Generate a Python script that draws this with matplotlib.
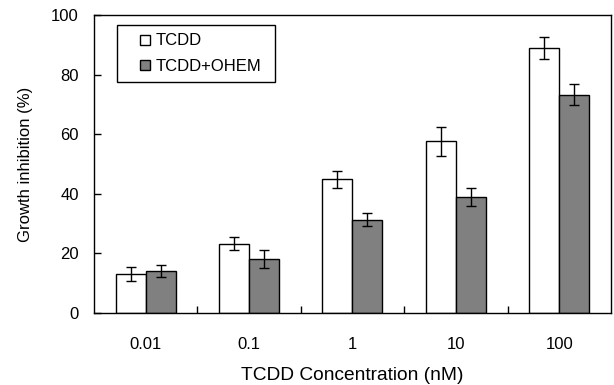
import matplotlib
matplotlib.use("Agg")
import matplotlib.pyplot as plt
from matplotlib.lines import Line2D
import numpy as np

plt.rcParams['font.family'] = ['Liberation Sans', 'DejaVu Sans']

categories = ["0.01", "0.1", "1", "10", "100"]
tcdd = [13.1, 23.3, 44.9, 57.6, 88.9]
tcdd_err = [2.3, 2.1, 2.9, 4.8, 3.6]
ohem = [14.0, 18.1, 31.3, 38.9, 73.3]
ohem_err = [2.0, 3.0, 2.2, 3.0, 3.5]
yticks = [0, 20, 40, 60, 80, 100]
series_names = ["TCDD", "TCDD+OHEM"]
colors = ["white", "#808080"]

fig = plt.figure(figsize=(6.14, 3.85), dpi=100)
ax = fig.add_axes([0.153, 0.187, 0.842, 0.774])

x = np.arange(len(categories))
w = 0.29
err_kw = dict(ecolor='black', elinewidth=1, capsize=3.3, capthick=1)
ax.bar(x - w/2, tcdd, w, yerr=tcdd_err, color=colors[0], edgecolor='black',
       linewidth=1, error_kw=err_kw)
ax.bar(x + w/2, ohem, w, yerr=ohem_err, color=colors[1], edgecolor='black',
       linewidth=1, error_kw=err_kw)

ax.set_xlim(-0.5, 4.5)
ax.set_ylim(0, 100)
ax.set_yticks(yticks)
ax.set_xticks(x)
ax.set_xticklabels(categories)
ax.set_xticks(x[:-1] + 0.5, minor=True)
ax.tick_params(axis='x', which='major', length=0, pad=17, labelsize=12)
ax.tick_params(axis='x', which='minor', direction='in', length=5, width=1)
ax.tick_params(axis='y', direction='in', length=5, width=1, pad=11, labelsize=12)
for s in ax.spines.values():
    s.set_linewidth(1)
    s.set_color('black')

ax.set_xlabel('TCDD Concentration (nM)', fontsize=13.8, labelpad=11)
ax.set_ylabel('Growth inhibition (%)', fontsize=12, labelpad=13)

handles = [Line2D([], [], linestyle='none', marker='s', markersize=7.0,
                  markerfacecolor=c, markeredgecolor='black', markeredgewidth=1)
           for c in colors]
leg = ax.legend(handles, series_names, loc='upper left',
                bbox_to_anchor=(0.0439, 0.966, 0.307, 0.0), mode='expand',
                fontsize=12, handlelength=2.45, handletextpad=-0.6,
                fancybox=False, framealpha=1, edgecolor='black',
                borderpad=0.5, labelspacing=0.62, borderaxespad=0)
leg.get_frame().set_linewidth(1)

fig.savefig('out.png', dpi=100)
